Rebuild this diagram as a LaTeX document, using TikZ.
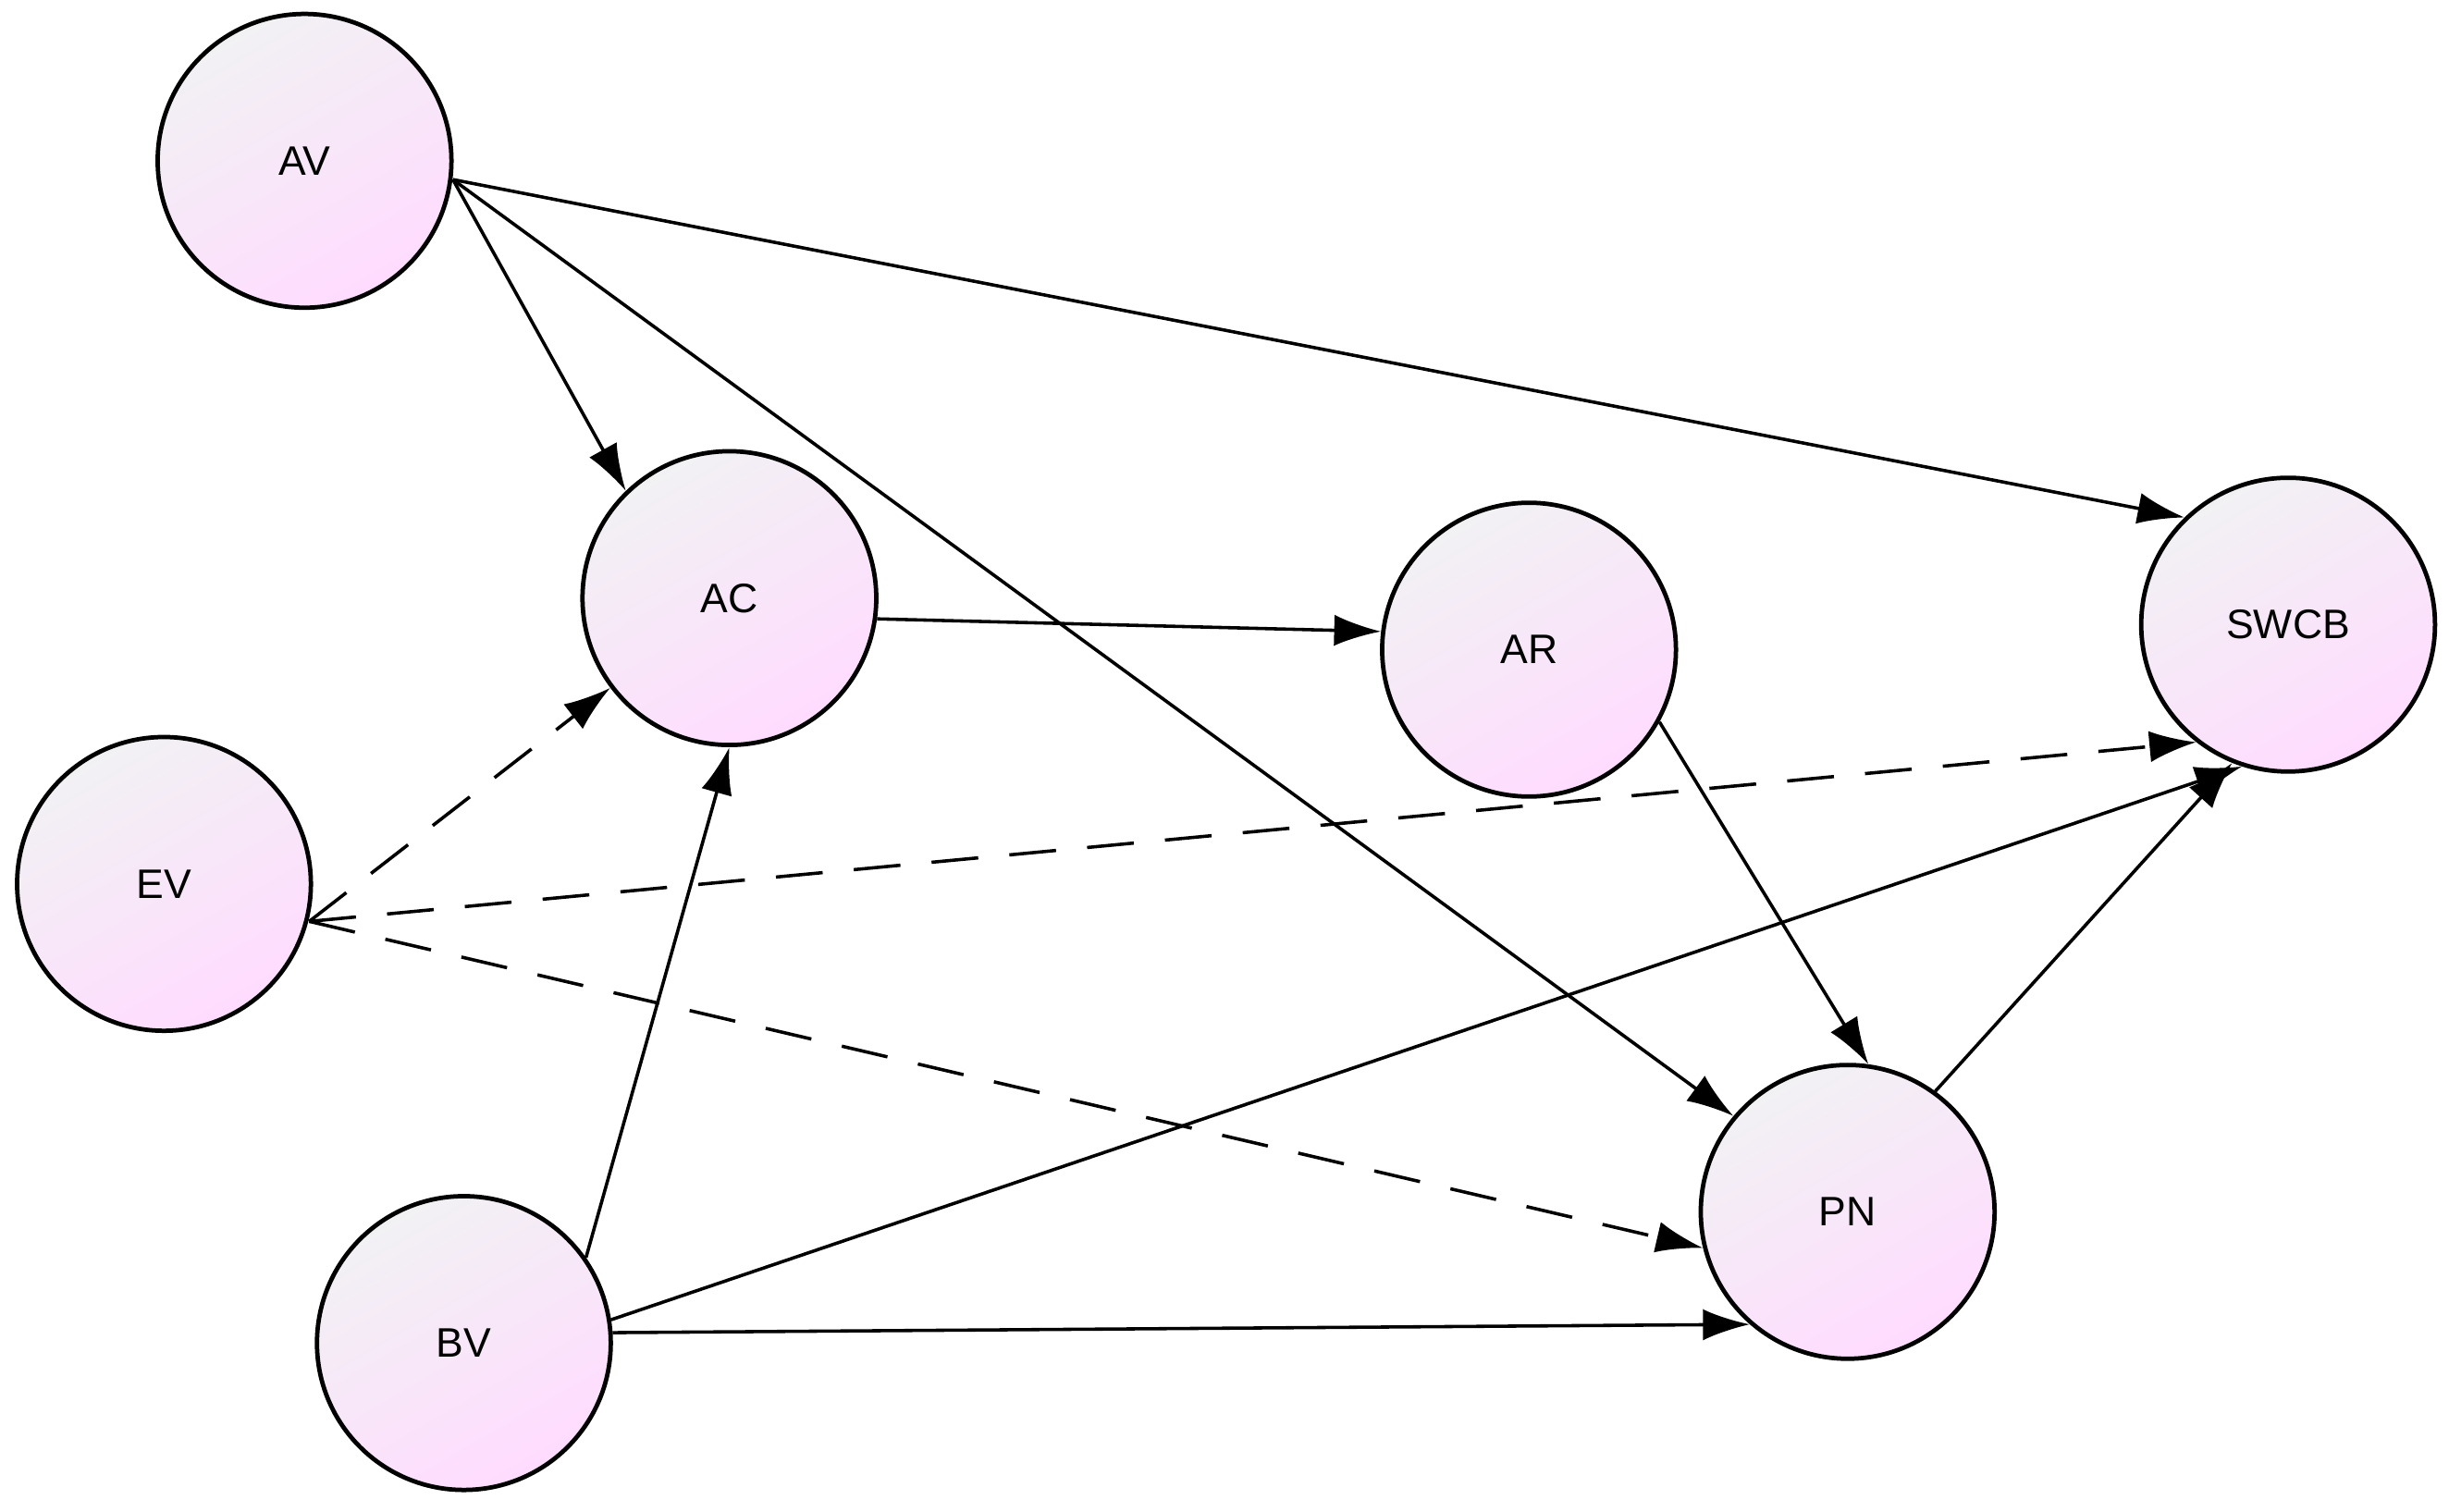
\documentclass[tikz,border=0pt]{standalone}
\usepackage{fontspec}
\setmainfont{Liberation Sans}
\usetikzlibrary{arrows.meta, positioning}

\begin{document}
\begin{tikzpicture}[
    x=0.01cm, y=-0.01cm,
    var/.style={circle, draw, thick, minimum size=1.88cm, inner sep=0pt, font=\fontsize{7.5}{9}\selectfont,
        top color=blue!8!gray!10, bottom color=magenta!14, shading angle=30},
    arrow/.style={-{Latex[length=3mm, width=2mm]}, semithick},
    dashedarrow/.style={arrow, dash pattern=on 3mm off 2mm}
]
\useasboundingbox (0,0) rectangle (1568,968);

\node[var] (AV) at (195,103) {AV};
\node[var] (AC) at (467,383) {AC};
\node[var] (AR) at (979,416) {AR};
\node[var] (SWCB) at (1465,400) {SWCB};
\node[var] (EV) at (105,566) {EV};
\node[var] (BV) at (297,860) {BV};
\node[var] (PN) at (1183,776) {PN};

\coordinate (avout) at (290,115);
\coordinate (evout) at (198,590);

\draw[arrow] (avout) -- (AC.134);
\draw[arrow] (avout) -- (PN.140);
\draw[arrow] (avout) -- (SWCB.134);
\draw[arrow] (AC.-8) -- (AR.173);
\draw[arrow] (AR.-29) -- (PN.82);
\draw[arrow] (PN.54) -- (SWCB.-112);
\draw[arrow] (BV.35) -- (AC.-90);
\draw[arrow] (BV.9) -- (SWCB.-108);
\draw[arrow] (BV.4) -- (PN.-131);

\draw[dashedarrow] (evout) -- (AC.217);
\draw[dashedarrow] (evout) -- (SWCB.232);
\draw[dashedarrow] (evout) -- (PN.194);

\end{tikzpicture}
\end{document}
